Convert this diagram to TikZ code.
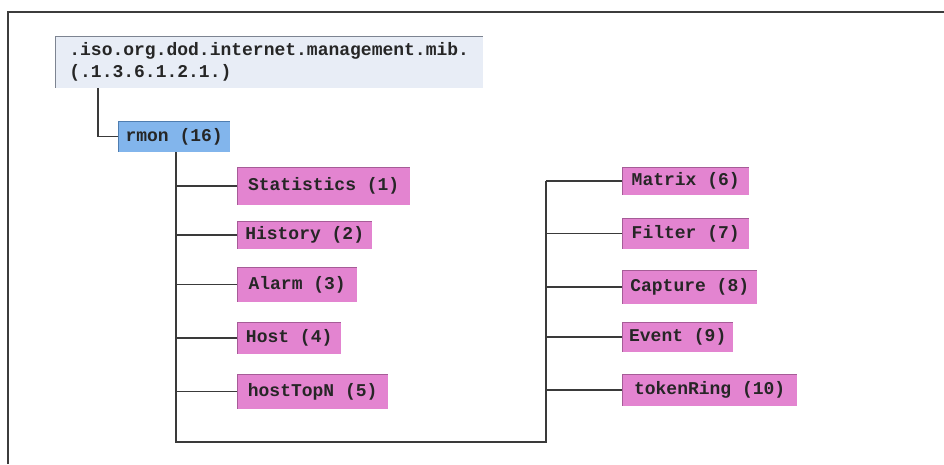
\documentclass[tikz,border=0pt]{standalone}
\usepackage{fontspec}
\setmonofont{Liberation Mono}
\definecolor{framegray}{HTML}{3C3C3C}
\definecolor{linegray}{HTML}{3A3A3A}
\definecolor{rootfill}{HTML}{E8EDF6}
\definecolor{rootedge}{HTML}{7D8491}
\definecolor{rmonfill}{HTML}{82B5EC}
\definecolor{rmonedge}{HTML}{4F7DB0}
\definecolor{leaffill}{HTML}{E384D0}
\definecolor{leafedge}{HTML}{A65C97}
\tikzset{
  bevel/.style={path picture={\draw[line width=2.4pt,#1]
      (path picture bounding box.south west) --
      (path picture bounding box.north west) --
      (path picture bounding box.north east);}},
  mibbox/.style={anchor=west, inner xsep=2pt, inner ysep=0pt,
      font=\fontsize{18}{22}\selectfont\ttfamily\bfseries, text=black!85},
  rootbox/.style={mibbox, fill=rootfill, bevel=rootedge, align=left},
  rmonbox/.style={mibbox, fill=rmonfill, bevel=rmonedge},
  leafbox/.style={mibbox, fill=leaffill, bevel=leafedge},
  conn/.style={draw=linegray, line width=1.2pt},
}
\begin{document}
\begin{tikzpicture}[x=1pt, y=-1pt]
\useasboundingbox (0,0) rectangle (944,464);
% outer frame (open to the right and bottom)
\draw[framegray, line width=1.6pt] (8,464) -- (8,12) -- (944,12);

% root and rmon
\node[rootbox, minimum width=428pt, minimum height=52pt] (root) at (55,62)
  {.iso.org.dod.internet.management.mib.\\(.1.3.6.1.2.1.)};
\node[rmonbox, minimum width=112pt, minimum height=31pt] (rmon) at (118,136.5) {rmon (16)};

% rmon groups, first column
\node[leafbox, minimum width=173pt, minimum height=38pt] (stat) at (237,186) {Statistics (1)};
\node[leafbox, minimum width=135pt, minimum height=28pt] (hist) at (237,235) {History (2)};
\node[leafbox, minimum width=120pt, minimum height=35pt] (alarm) at (237,284.5) {Alarm (3)};
\node[leafbox, minimum width=104pt, minimum height=32pt] (host) at (237,338) {Host (4)};
\node[leafbox, minimum width=151pt, minimum height=35pt] (topn) at (237,391.5) {hostTopN (5)};

% rmon groups, second column
\node[leafbox, minimum width=127pt, minimum height=28pt] (matrix) at (622,181) {Matrix (6)};
\node[leafbox, minimum width=127pt, minimum height=31pt] (filter) at (622,233.5) {Filter (7)};
\node[leafbox, minimum width=135pt, minimum height=34pt] (capture) at (622,287) {Capture (8)};
\node[leafbox, minimum width=111pt, minimum height=30pt] (event) at (622,337) {Event (9)};
\node[leafbox, minimum width=175pt, minimum height=32pt] (token) at (622,390) {tokenRing (10)};

% trunk corners
\coordinate (rt) at (98,0);
\coordinate (lt) at (176,442);
\coordinate (ct) at (546,442);

% root -> rmon
\draw[conn] (root.south -| rt) |- (rmon.west);

% rmon trunk, bottom run and second trunk
\draw[conn] (rmon.south -| lt) -- (lt) -- (ct) -- (ct |- matrix.west);

% branches
\foreach \n in {stat,hist,alarm,host,topn}
  \draw[conn] (lt |- \n.west) -- (\n.west);
\foreach \n in {matrix,filter,capture,event,token}
  \draw[conn] (ct |- \n.west) -- (\n.west);
\end{tikzpicture}
\end{document}
